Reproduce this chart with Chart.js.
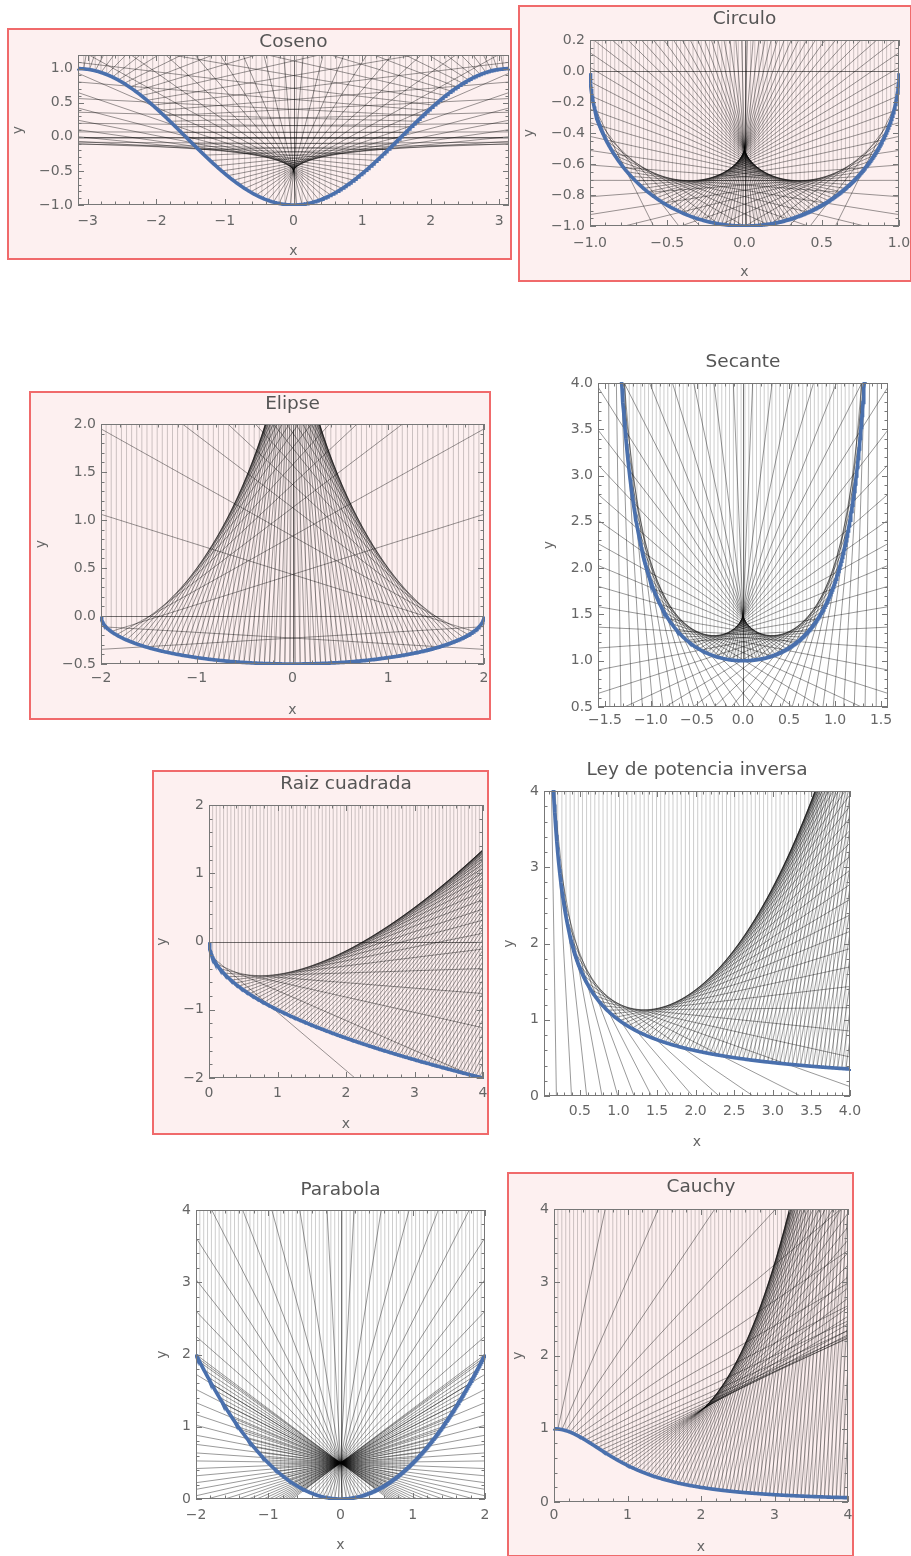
<!DOCTYPE html>
<html>
<head>
<meta charset="utf-8">
<script src="https://cdn.jsdelivr.net/npm/chart.js@4.4.1/dist/chart.umd.min.js"></script>
<style>
  body { margin: 0; width: 911px; height: 1556px; position: relative; overflow: hidden; background: #fff; }
  .panel { position: absolute; background: #fff; }
  .panel.boxed { background: #fdf0f0; outline: 2px solid #f06a6b; }
  canvas { display: block; }
</style>
</head>
<body>
<script>
// Reflection of vertical light rays on eight mirror profiles (caustics).

const titles = ['Coseno', 'Circulo', 'Elipse', 'Secante', 'Raiz cuadrada',
                'Ley de potencia inversa', 'Parabola', 'Cauchy'];

// mirror profiles y = f(x)
const mirrors = [
  x => -Math.cos(x),
  x => -Math.sqrt(1 - x * x),
  x => -0.5 * Math.sqrt(1 - x * x / 4),
  x => 1 / Math.cos(x),
  x => -Math.sqrt(x),
  x => Math.pow(x, -0.75),
  x => x * x / 2,
  x => 1 / (1 + x * x)
];

const xRanges = [[-Math.PI, Math.PI], [-1, 1], [-2, 2], [-1.575, 1.575], [0, 4], [0.035, 4], [-2, 2], [0, 4]];
const yRanges = [[-1, 1.2], [-1, 0.2], [-0.5, 2], [0.5, 4], [-2, 2], [0, 4], [0, 4], [0, 4]];

// where the incoming rays hit the mirror, and how many rays
const rayDomains = [[-Math.PI, Math.PI], [-1, 1], [-2, 2], [-Math.PI / 2, Math.PI / 2], [0, 4], [0, 4], [-2, 2], [0, 4]];
const rayCounts = [75, 75, 75, 75, 75, 75, 75, 75];

const xMajorTicks = [
  [-3, -2, -1, 0, 1, 2, 3],
  [-1, -0.5, 0, 0.5, 1],
  [-2, -1, 0, 1, 2],
  [-1.5, -1, -0.5, 0, 0.5, 1, 1.5],
  [0, 1, 2, 3, 4],
  [0.5, 1, 1.5, 2, 2.5, 3, 3.5, 4],
  [-2, -1, 0, 1, 2],
  [0, 1, 2, 3, 4]
];
const yMajorTicks = [
  [-1, -0.5, 0, 0.5, 1],
  [-1, -0.8, -0.6, -0.4, -0.2, 0, 0.2],
  [-0.5, 0, 0.5, 1, 1.5, 2],
  [0.5, 1, 1.5, 2, 2.5, 3, 3.5, 4],
  [-2, -1, 0, 1, 2],
  [0, 1, 2, 3, 4],
  [0, 1, 2, 3, 4],
  [0, 1, 2, 3, 4]
];
const xMinorSteps = [0.2, 0.1, 0.2, 0.1, 0.2, 0.1, 0.2, 0.2];
const yMinorSteps = [0.1, 0.05, 0.1, 0.1, 0.2, 0.2, 0.2, 0.2];
const xDecimals = [0, 1, 0, 1, 0, 1, 0, 0];
const yDecimals = [1, 1, 1, 1, 0, 0, 0, 0];

// page placement: box and plot rectangles [left, top, right, bottom]
const layout = [
  { box: [9, 30, 510, 258],    plot: [78, 55, 509, 205],    titleY: 42,   xLabelY: 221, xTitleY: 251,  yTitleX: 18,  boxed: true },
  { box: [520, 7, 910, 280],   plot: [590, 40, 899, 226],   titleY: 19,   xLabelY: 243, xTitleY: 272,  yTitleX: 529, boxed: true },
  { box: [31, 393, 489, 718],  plot: [101, 424, 484, 664],  titleY: 404,  xLabelY: 678, xTitleY: 710,  yTitleX: 41,  boxed: true },
  { box: [530, 345, 905, 745], plot: [598, 383, 888, 707],  titleY: 362,  xLabelY: 720, xTitleY: null, yTitleX: 549, boxed: false },
  { box: [154, 772, 487, 1133], plot: [209, 805, 483, 1078], titleY: 784,  xLabelY: 1093, xTitleY: 1124, yTitleX: 162, boxed: true },
  { box: [495, 755, 870, 1155], plot: [544, 791, 850, 1096], titleY: 770,  xLabelY: 1111, xTitleY: 1142, yTitleX: 509, boxed: false },
  { box: [150, 1172, 500, 1556], plot: [196, 1210, 485, 1499], titleY: 1190, xLabelY: 1515, xTitleY: 1545, yTitleX: 162, boxed: false },
  { box: [509, 1174, 852, 1555], plot: [554, 1209, 848, 1502], titleY: 1187, xLabelY: 1515, xTitleY: 1547, yTitleX: 518, boxed: true }
];

const FONT = '"DejaVu Sans", Verdana, sans-serif';
const LABEL_COLOR = '#666';
const TITLE_COLOR = '#555';
const FRAME_COLOR = '#777';
const AXIS_COLOR = 'rgba(0,0,0,0.55)';
const INCOMING_COLOR = 'rgba(0,0,0,0.2)';
const REFLECTED_COLOR = 'rgba(0,0,0,0.4)';
const MIRROR_COLOR = '#4a70ad';
const RAY_LENGTH = 100;

function fmt(v, d) {
  if (Math.abs(v) < 1e-9) v = 0;
  return v.toFixed(d).replace('-', '\u2212');
}

function slope(f, x) {
  const h = 1e-6;
  return (f(x + h) - f(x - h)) / (2 * h);
}

function minorValues(min, max, step, majors) {
  const out = [];
  for (let k = Math.ceil(min / step - 1e-9); k * step <= max + 1e-9; k++) {
    const v = k * step;
    if (!majors.some(m => Math.abs(m - v) < 1e-6)) out.push(v);
  }
  return out;
}

// frame with inward ticks on all four sides, plus the axes through the origin
function frameTicks(i) {
  return {
    id: 'frameTicks',
    beforeDatasetsDraw(chart) {
      const { ctx, chartArea: a, scales: { x, y } } = chart;
      ctx.save();
      ctx.strokeStyle = AXIS_COLOR;
      ctx.lineWidth = 1;
      ctx.beginPath();
      if (x.min < 0 && x.max > 0) {
        const px = Math.round(x.getPixelForValue(0)) + 0.5;
        ctx.moveTo(px, a.top); ctx.lineTo(px, a.bottom);
      }
      if (y.min < 0 && y.max > 0) {
        const py = Math.round(y.getPixelForValue(0)) + 0.5;
        ctx.moveTo(a.left, py); ctx.lineTo(a.right, py);
      }
      ctx.stroke();
      ctx.restore();
    },
    afterDatasetsDraw(chart) {
      const { ctx, chartArea: a, scales: { x, y } } = chart;
      ctx.save();
      ctx.strokeStyle = FRAME_COLOR;
      ctx.lineWidth = 1;
      ctx.strokeRect(Math.round(a.left) + 0.5, Math.round(a.top) + 0.5,
                     Math.round(a.right - a.left) - 1, Math.round(a.bottom - a.top) - 1);
      ctx.beginPath();
      const xt = (v, len) => {
        const px = Math.round(x.getPixelForValue(v)) + 0.5;
        ctx.moveTo(px, a.bottom); ctx.lineTo(px, a.bottom - len);
        ctx.moveTo(px, a.top); ctx.lineTo(px, a.top + len);
      };
      const yt = (v, len) => {
        const py = Math.round(y.getPixelForValue(v)) + 0.5;
        ctx.moveTo(a.left, py); ctx.lineTo(a.left + len, py);
        ctx.moveTo(a.right, py); ctx.lineTo(a.right - len, py);
      };
      xMajorTicks[i].forEach(v => xt(v, 6));
      minorValues(x.min, x.max, xMinorSteps[i], xMajorTicks[i]).forEach(v => xt(v, 3.5));
      yMajorTicks[i].forEach(v => yt(v, 6));
      minorValues(y.min, y.max, yMinorSteps[i], yMajorTicks[i]).forEach(v => yt(v, 3.5));
      ctx.stroke();
      ctx.restore();
    }
  };
}

function buildDatasets(i) {
  const f = mirrors[i];
  const [a, b] = rayDomains[i];
  const n = rayCounts[i];
  const top = yRanges[i][1] + 1;
  const incoming = [];
  const reflected = [];
  for (let k = 0; k <= n; k++) {
    const x0 = a + (b - a) * k / n;
    const y0 = f(x0);
    if (!isFinite(y0) || Math.abs(y0) > 1e3) continue;
    incoming.push({ x: x0, y: y0 }, { x: x0, y: Math.max(top, y0) }, { x: x0, y: null });
    const m = slope(f, x0);
    if (!isFinite(m)) continue;
    const ang = 2 * Math.atan(m) + Math.PI / 2;
    reflected.push({
      data: [{ x: x0, y: y0 }, { x: x0 + RAY_LENGTH * Math.cos(ang), y: y0 + RAY_LENGTH * Math.sin(ang) }],
      showLine: true, pointRadius: 0, borderColor: REFLECTED_COLOR, borderWidth: 1, clip: 0
    });
  }
  // mirror curve
  const lo = Math.max(a, xRanges[i][0]) + 1e-4;
  const hi = Math.min(b, xRanges[i][1]) - 1e-4;
  const curve = [];
  for (let k = 0; k <= 600; k++) {
    const xv = lo + (hi - lo) * k / 600;
    curve.push({ x: xv, y: f(xv) });
  }
  // index 0 is painted last, so the mirror sits on top
  return [
    { data: curve, showLine: true, pointRadius: 0, borderColor: MIRROR_COLOR, borderWidth: 3.6, clip: 1 },
    ...reflected,
    { data: incoming, showLine: true, spanGaps: false, pointRadius: 0, borderColor: INCOMING_COLOR, borderWidth: 1, clip: 0 }
  ];
}

titles.forEach((title, i) => {
  const L = layout[i];
  const [bl, bt, br, bb] = L.box;
  const [pl, pt, pr, pb] = L.plot;
  const W = br - bl, H = bb - bt;

  const div = document.createElement('div');
  div.className = 'panel' + (L.boxed ? ' boxed' : '');
  div.style.left = bl + 'px';
  div.style.top = bt + 'px';
  div.style.width = W + 'px';
  div.style.height = H + 'px';
  const cv = document.createElement('canvas');
  cv.width = W;
  cv.height = H;
  div.appendChild(cv);
  document.body.appendChild(div);

  const titleSize = 18.5, axisSize = 14;
  const padTop = L.titleY - bt - titleSize / 2;
  const titlePadBottom = pt - bt - padTop - titleSize;
  const padLeft = L.yTitleX - bl - axisSize / 2;
  const yWidth = pl - bl - padLeft;
  const padRight = br - pr;
  const padBottom = L.xTitleY ? bb - L.xTitleY - axisSize / 2 : 2;
  const xHeight = H - padBottom - (pb - bt);
  const xLabelPad = L.xLabelY - pb - axisSize / 2;

  new Chart(cv, {
    type: 'scatter',
    data: { datasets: buildDatasets(i) },
    options: {
      responsive: false,
      animation: false,
      devicePixelRatio: 1,
      events: [],
      layout: { autoPadding: false, padding: { left: padLeft, right: padRight, top: padTop, bottom: padBottom } },
      plugins: {
        legend: { display: false },
        tooltip: { enabled: false },
        title: {
          display: true, text: title, fullSize: false, color: TITLE_COLOR,
          font: { family: FONT, size: titleSize, weight: 'normal', lineHeight: 1 },
          padding: { top: 0, bottom: titlePadBottom }
        }
      },
      scales: {
        x: {
          type: 'linear', min: xRanges[i][0], max: xRanges[i][1],
          grid: { display: false, drawTicks: false },
          border: { display: false },
          ticks: {
            color: LABEL_COLOR, font: { family: FONT, size: axisSize, lineHeight: 1 },
            padding: xLabelPad, autoSkip: false, maxRotation: 0,
            callback: v => fmt(v, xDecimals[i])
          },
          afterBuildTicks: s => { s.ticks = xMajorTicks[i].map(v => ({ value: v })); },
          afterFit: s => { s.height = xHeight; s.paddingLeft = 0; s.paddingRight = 0; },
          title: {
            display: !!L.xTitleY, text: 'x', color: LABEL_COLOR,
            font: { family: FONT, size: axisSize, lineHeight: 1 }, padding: 0
          }
        },
        y: {
          type: 'linear', min: yRanges[i][0], max: yRanges[i][1],
          grid: { display: false, drawTicks: false },
          border: { display: false },
          ticks: {
            color: LABEL_COLOR, font: { family: FONT, size: axisSize, lineHeight: 1 },
            padding: 5, autoSkip: false,
            callback: v => fmt(v, yDecimals[i])
          },
          afterBuildTicks: s => { s.ticks = yMajorTicks[i].map(v => ({ value: v })); },
          afterFit: s => { s.width = yWidth; s.paddingTop = 0; s.paddingBottom = 0; },
          title: {
            display: true, text: 'y', color: LABEL_COLOR,
            font: { family: FONT, size: axisSize, lineHeight: 1 }, padding: 0
          }
        }
      }
    },
    plugins: [frameTicks(i)]
  });
});
</script>
</body>
</html>
